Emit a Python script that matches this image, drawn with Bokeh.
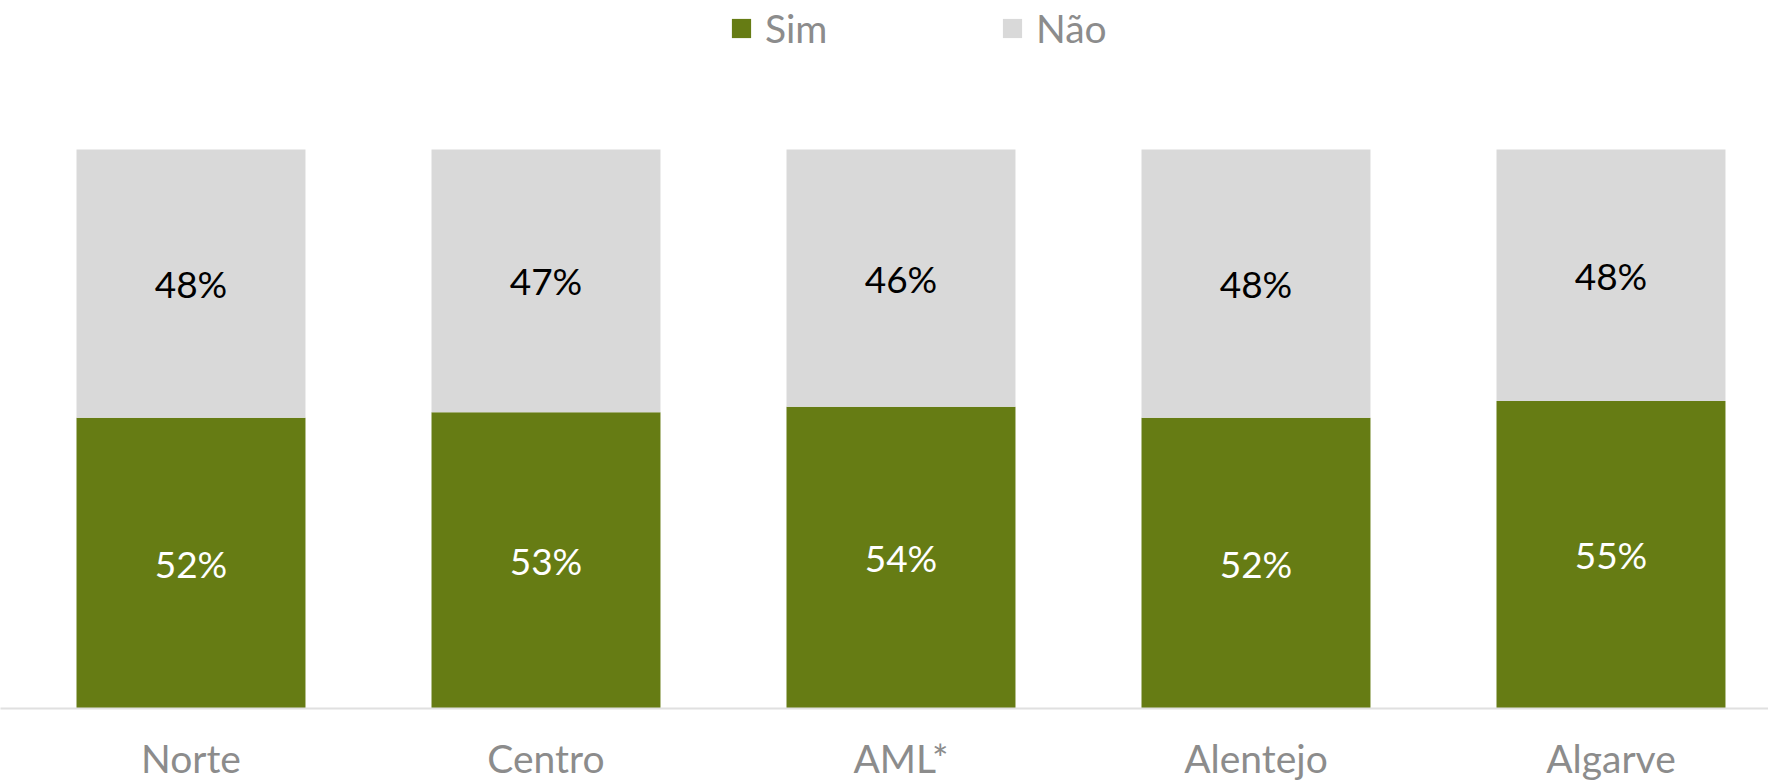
from bokeh.plotting import figure
from bokeh.models import ColumnDataSource, Range1d, FixedTicker, Legend, LegendItem
from bokeh.core.properties import value
from bokeh.embed import file_html
from bokeh.resources import INLINE

regions = ["Norte", "Centro", "AML*", "Alentejo", "Algarve"]
sim = [52, 53, 54, 52, 55]
nao = [48, 47, 46, 48, 48]

GREEN = "#667c14"
GRAY = "#d9d9d9"
FONT = "Lato"

xs = list(range(len(regions)))
sim_frac = [v / 100 for v in sim]
nao_top = [1.0 for _ in nao]
src = ColumnDataSource(dict(
    x=xs,
    sim=sim_frac,
    top=nao_top,
    sim_mid=[s / 2 for s in sim_frac],
    nao_mid=[s + (1 - s) / 2 for s in sim_frac],
    sim_lbl=[f"{v}%" for v in sim],
    nao_lbl=[f"{v}%" for v in nao],
))

p = figure(width=1768, height=783, output_backend="svg", toolbar_location=None,
           x_range=Range1d(-0.5366, 4.4437), y_range=Range1d(0, 1.2665),
           min_border_left=0, min_border_right=0, min_border_top=0, min_border_bottom=75)
p.outline_line_color = None
p.grid.visible = False
p.yaxis.visible = False

r_sim = p.vbar(x="x", top="sim", bottom=0, width=0.645, source=src,
               fill_color=GREEN, line_color=None)
r_nao = p.vbar(x="x", top="top", bottom="sim", width=0.645, source=src,
               fill_color=GRAY, line_color=None)

p.text(x="x", y="sim_mid", text="sim_lbl", source=src, text_color="white",
       text_font=value(FONT), text_font_size="37px", text_align="center", text_baseline="middle")
p.text(x="x", y="nao_mid", text="nao_lbl", source=src, text_color="black",
       text_font=value(FONT), text_font_size="37px", text_align="center", text_baseline="middle")

ax = p.xaxis[0]
ax.ticker = FixedTicker(ticks=xs)
ax.major_label_overrides = {i: r for i, r in enumerate(regions)}
ax.major_tick_line_color = None
ax.minor_tick_line_color = None
ax.axis_line_color = "#e0e0e0"
ax.axis_line_width = 2
ax.major_label_text_font = FONT
ax.major_label_text_font_size = "39px"
ax.major_label_text_color = "#8c8c8c"
ax.major_label_standoff = 20

legend = Legend(items=[LegendItem(label="Sim", renderers=[r_sim]),
                       LegendItem(label="Não", renderers=[r_nao])],
                orientation="horizontal", location=(729, 657),
                glyph_width=24, glyph_height=24, label_standoff=12, label_width=235,
                spacing=0, padding=0, margin=0, border_line_color=None,
                background_fill_alpha=0, label_text_font=FONT,
                label_text_font_size="39px", label_text_color="#8c8c8c",
                label_height=24)
p.add_layout(legend)

open("out.html", "w").write(file_html(p, INLINE))
